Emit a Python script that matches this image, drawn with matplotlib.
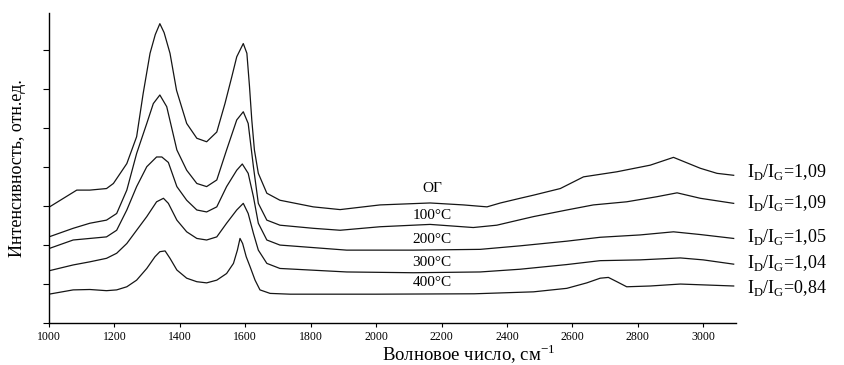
import numpy as np
import matplotlib
matplotlib.use('Agg')
import matplotlib.pyplot as plt

plt.rcParams['font.family'] = ['Liberation Serif', 'DejaVu Serif']
plt.rcParams['mathtext.fontset'] = 'custom'
plt.rcParams['mathtext.rm'] = 'Liberation Serif'

# Raman spectra (wavenumber, cm-1 / intensity, rel. units, already offset)
wn_og = [1000, 1085, 1125, 1176, 1197, 1238, 1268, 1288, 1309, 1325, 1339, 1352, 1370, 1390,
         1421, 1452, 1482, 1513, 1538, 1559, 1574, 1594, 1605, 1613, 1620, 1628, 1640, 1666,
         1706, 1808, 1890, 2012, 2165, 2267, 2339, 2380, 2440, 2481, 2563, 2634, 2736, 2838,
         2909, 2991, 3042, 3093]
i_og = [2.97, 3.41, 3.41, 3.45, 3.58, 4.09, 4.78, 5.89, 6.92, 7.4, 7.68, 7.45, 6.92, 5.97,
        5.12, 4.74, 4.65, 4.9, 5.63, 6.32, 6.83, 7.17, 6.92, 6.07, 5.21, 4.44, 3.84, 3.33,
        3.15, 2.98, 2.91, 3.03, 3.08, 3.03, 2.98, 3.08, 3.2, 3.28, 3.45, 3.75, 3.88, 4.05,
        4.25, 3.97, 3.84, 3.79]

wn_100 = [1000, 1074, 1125, 1176, 1207, 1238, 1268, 1299, 1319, 1339, 1360, 1391, 1421, 1452,
          1482, 1513, 1543, 1574, 1594, 1609, 1625, 1640, 1666, 1706, 1808, 1890, 2012, 2165,
          2297, 2369, 2440, 2481, 2583, 2664, 2766, 2858, 2920, 2991, 3093]
i_100 = [2.21, 2.43, 2.56, 2.64, 2.81, 3.41, 4.35, 5.12, 5.63, 5.85, 5.55, 4.44, 3.92, 3.58,
         3.5, 3.67, 4.44, 5.21, 5.42, 5.12, 4.01, 3.07, 2.64, 2.51, 2.43, 2.38, 2.47, 2.53,
         2.45, 2.51, 2.65, 2.73, 2.9, 3.03, 3.11, 3.24, 3.34, 3.2, 3.07]

wn_200 = [1000, 1074, 1125, 1176, 1207, 1238, 1268, 1299, 1329, 1345, 1365, 1391, 1421, 1452,
          1482, 1513, 1543, 1574, 1591, 1609, 1625, 1640, 1666, 1706, 1910, 2114, 2318, 2440,
          2583, 2685, 2807, 2909, 2991, 3093]
i_200 = [1.91, 2.13, 2.17, 2.21, 2.38, 2.9, 3.5, 4.01, 4.26, 4.26, 4.12, 3.5, 3.15, 2.9,
         2.85, 2.98, 3.5, 3.92, 4.08, 3.84, 3.24, 2.56, 2.13, 2.0, 1.87, 1.87, 1.89, 1.98,
         2.1, 2.2, 2.26, 2.34, 2.27, 2.17]

wn_300 = [1000, 1074, 1125, 1176, 1207, 1238, 1268, 1299, 1329, 1350, 1365, 1391, 1421, 1452,
          1482, 1513, 1543, 1574, 1594, 1609, 1625, 1640, 1666, 1706, 1910, 2114, 2318, 2440,
          2583, 2685, 2807, 2930, 3000, 3093]
i_300 = [1.34, 1.49, 1.57, 1.66, 1.79, 2.04, 2.38, 2.73, 3.11, 3.2, 3.07, 2.64, 2.34, 2.17,
         2.13, 2.21, 2.56, 2.9, 3.07, 2.81, 2.3, 1.87, 1.53, 1.4, 1.31, 1.29, 1.31, 1.38,
         1.5, 1.6, 1.62, 1.67, 1.62, 1.51]

wn_400 = [1000, 1074, 1125, 1176, 1207, 1238, 1268, 1299, 1324, 1339, 1355, 1370, 1391, 1421,
          1452, 1482, 1513, 1543, 1564, 1576, 1584, 1592, 1603, 1615, 1630, 1645, 1676, 1737,
          2000, 2300, 2481, 2583, 2644, 2685, 2710, 2736, 2766, 2838, 2930, 3093]
i_400 = [0.74, 0.85, 0.86, 0.83, 0.85, 0.93, 1.1, 1.4, 1.7, 1.83, 1.85, 1.66, 1.36, 1.15,
         1.06, 1.03, 1.1, 1.27, 1.53, 1.87, 2.17, 2.04, 1.7, 1.44, 1.1, 0.85, 0.76, 0.74,
         0.74, 0.75, 0.8, 0.89, 1.03, 1.15, 1.17, 1.06, 0.93, 0.95, 1.0, 0.95]

temp_labels = ['ОГ', '100°C', '200°C', '300°C', '400°C']
temp_label_y = [3.44, 2.77, 2.13, 1.54, 1.03]
ratio_labels = ['1,09', '1,09', '1,05', '1,04', '0,84']
ratio_label_y = [3.87, 3.08, 2.2, 1.54, 0.9]

fig = plt.figure(figsize=(8.44, 3.65), dpi=100)
ax = fig.add_axes([0.058, 0.115, 0.814, 0.849])

for wn, inten in [(wn_og, i_og), (wn_100, i_100), (wn_200, i_200), (wn_300, i_300), (wn_400, i_400)]:
    ax.plot(wn, inten, color='#151515', lw=0.9)

for lab, y in zip(temp_labels, temp_label_y):
    ax.text(2171, y, lab, ha='center', va='center', fontsize=11)

for lab, y in zip(ratio_labels, ratio_label_y):
    ax.text(3134, y, r'I$_\mathrm{D}$/I$_\mathrm{G}$=' + lab, ha='left', va='center',
            fontsize=13, clip_on=False)

ax.set_xlim(1000, 3100)
ax.set_ylim(0, 7.95)
ax.set_xticks(np.arange(1000, 3001, 200))
ax.set_yticks(np.arange(0, 8, 1))
ax.set_yticklabels([])
ax.tick_params(axis='x', labelsize=8.5, length=3, width=0.8, direction='out', pad=3)
ax.tick_params(axis='y', length=4, width=0.8, direction='out')
for s in ['top', 'right']:
    ax.spines[s].set_visible(False)
for s in ['left', 'bottom']:
    ax.spines[s].set_linewidth(1.0)

ax.set_xlabel('Волновое число, см$^{-1}$', fontsize=13.5, va='center')
ax.xaxis.set_label_coords(0.611, -0.1)
ax.set_ylabel('Интенсивность, отн.ед.', fontsize=13)
ax.yaxis.set_label_coords(-0.034, 0.5)

fig.savefig('out.png', dpi=100)
